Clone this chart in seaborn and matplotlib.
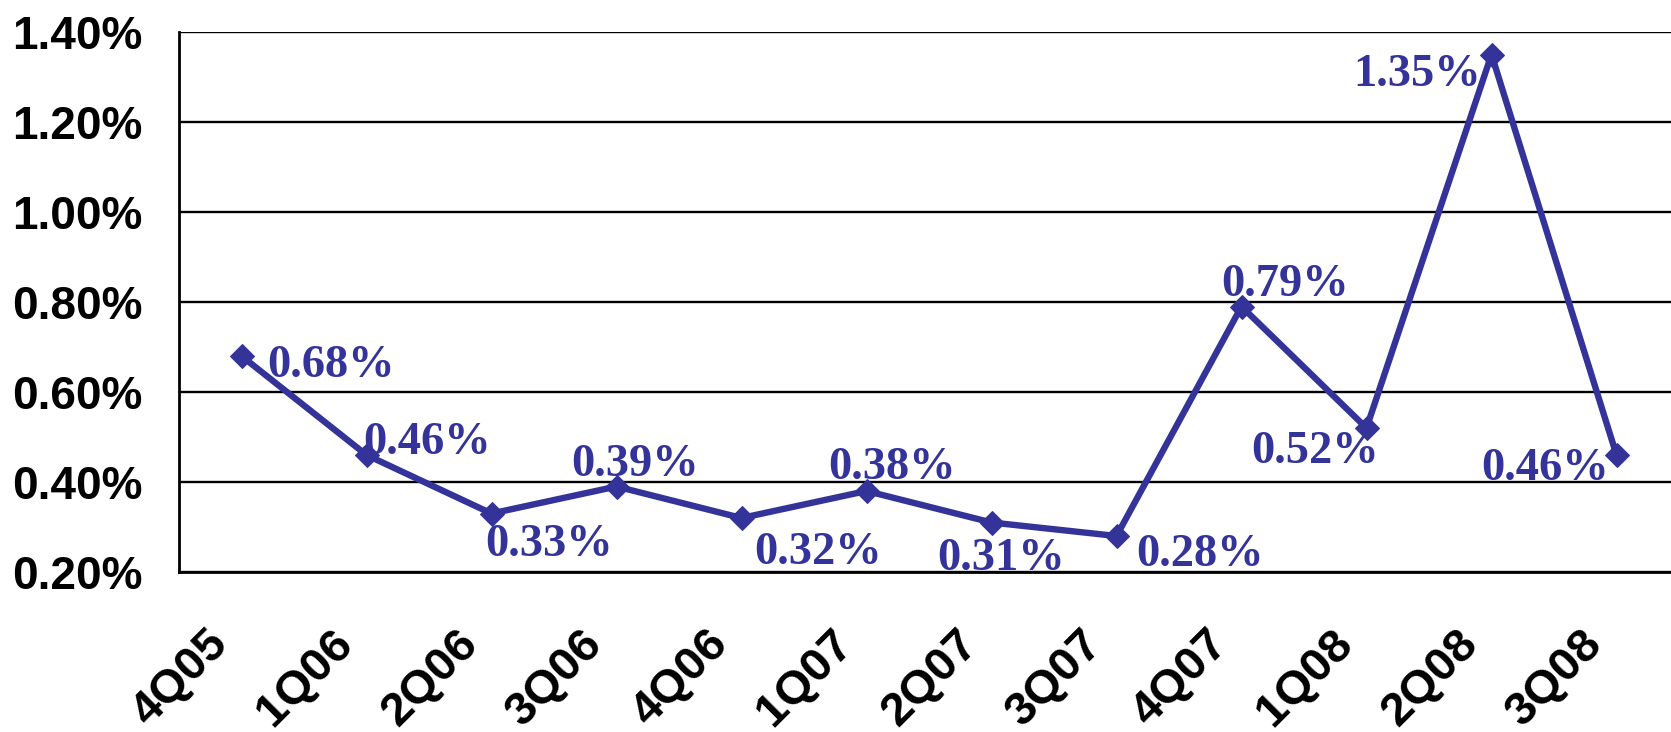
import matplotlib
matplotlib.use("Agg")
import matplotlib.pyplot as plt
import matplotlib.transforms as mtransforms
import seaborn as sns
import pandas as pd
from matplotlib.ticker import FixedLocator, FuncFormatter

# Quarterly rate series
quarters = ["4Q05", "1Q06", "2Q06", "3Q06", "4Q06", "1Q07",
            "2Q07", "3Q07", "4Q07", "1Q08", "2Q08", "3Q08"]
rates = [0.68, 0.46, 0.33, 0.39, 0.32, 0.38, 0.31, 0.28, 0.79, 0.52, 1.35, 0.46]
y_ticks = [0.20, 0.40, 0.60, 0.80, 1.00, 1.20, 1.40]

# Where each value label sits relative to its marker (pixels)
label_offsets = [(90, -5), (61, 17), (58, -26), (19, 27), (77, -30), (26, 28),
                 (10, -31), (84, -14), (44, 27), (-51, -19), (-74, -16), (-71, -9)]

LINE_COLOR = "#333399"

sns.set_style("white")
plt.rcParams["font.family"] = ["Liberation Sans", "DejaVu Sans"]
plt.rcParams["text.color"] = "black"
plt.rcParams["xtick.color"] = "black"
plt.rcParams["ytick.color"] = "black"

df = pd.DataFrame({"quarter": quarters, "rate": rates})

fig = plt.figure(figsize=(16.71, 7.32), dpi=100)
ax = fig.add_axes([179 / 1671, 160 / 732, 1500 / 1671, 540 / 732])

sns.lineplot(data=df, x="quarter", y="rate", ax=ax, color=LINE_COLOR,
             linewidth=4.6, marker="D", markersize=12,
             markeredgecolor=LINE_COLOR, markerfacecolor=LINE_COLOR,
             sort=False)

ax.set_xlim(-0.5, len(quarters) - 0.5)
ax.set_ylim(y_ticks[0], y_ticks[-1])

# Y axis
ax.yaxis.set_major_locator(FixedLocator(y_ticks))
ax.yaxis.set_major_formatter(FuncFormatter(lambda v, p: f"{v:.2f}%"))
ax.grid(axis="y", color="black", linewidth=1.7)
ax.grid(axis="x", visible=False)
ax.tick_params(axis="y", which="major", direction="out", length=11, width=1.7,
               color="black", labelcolor="black", pad=15, labelsize=33)
for lab in ax.get_yticklabels():
    lab.set_fontweight("bold")

# X axis: labels at categories, tick marks between categories
ax.set_xticks(range(len(quarters)))
ax.set_xticklabels(quarters, rotation=45, ha="right", va="baseline",
                   rotation_mode="anchor", fontsize=34, fontweight="bold",
                   color="black")
ax.set_xticks([i - 0.5 for i in range(len(quarters) + 1)], minor=True)
ax.tick_params(axis="x", which="major", length=0, pad=53)
ax.tick_params(axis="x", which="minor", direction="out", length=12, width=1.7,
               color="black")
shift = mtransforms.ScaledTranslation(-12 / 100, 0, fig.dpi_scale_trans)
for lab in ax.get_xticklabels():
    lab.set_transform(lab.get_transform() + shift)
ax.set_xlabel("")
ax.set_ylabel("")

for side in ("top", "right"):
    ax.spines[side].set_visible(False)
for side in ("left", "bottom"):
    ax.spines[side].set_color("black")
    ax.spines[side].set_linewidth(2.0)

# Value labels
for i, (v, off) in enumerate(zip(rates, label_offsets)):
    ax.annotate(f"{v:.2f}%", xy=(i, v), xytext=off, textcoords="offset pixels",
                ha="center", va="center_baseline", color=LINE_COLOR,
                fontsize=33.5, fontweight="bold",
                family=["Liberation Serif", "DejaVu Serif"], annotation_clip=False)

fig.savefig("out.png", dpi=100)
